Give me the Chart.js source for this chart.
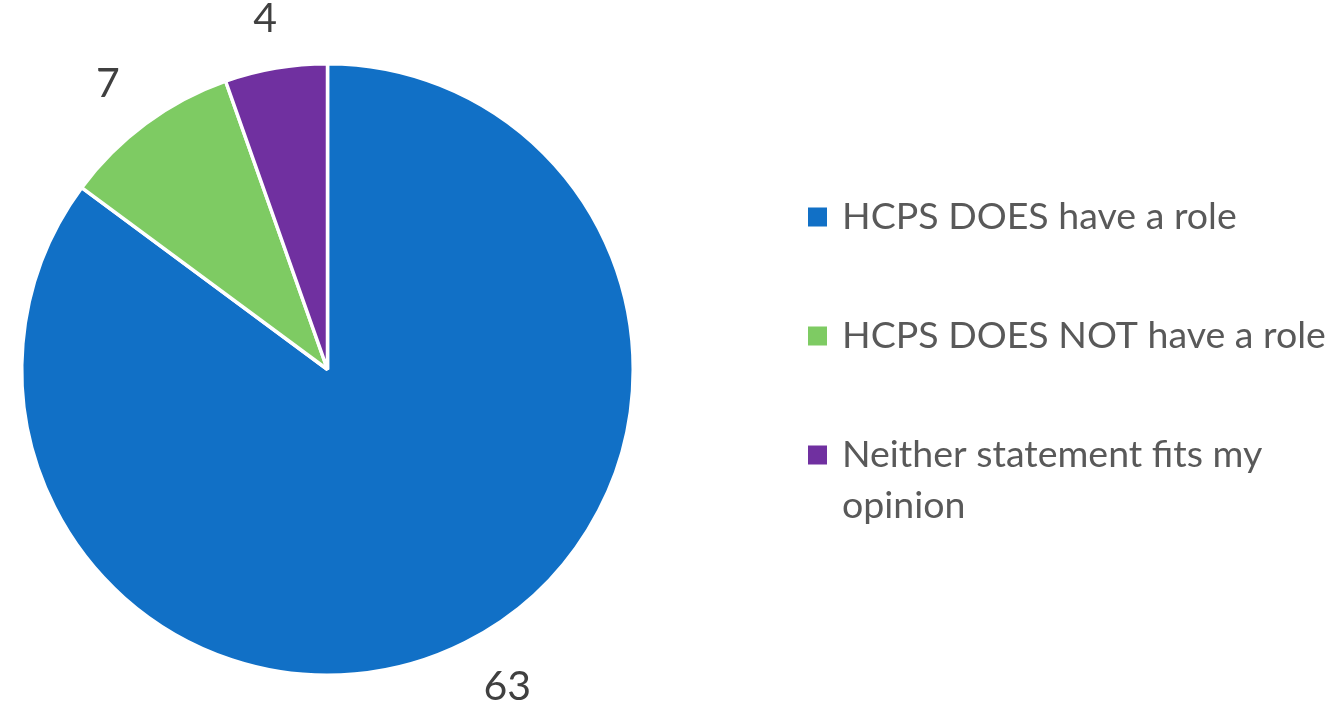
<!DOCTYPE html>
<html>
<head>
  <title>HCPS role pie</title>
  <script src="https://cdn.jsdelivr.net/npm/chart.js"></script>
  <style>
    body { margin: 0; background: #fff; }
  </style>
</head>
<body>
  <canvas id="pieChart" width="1332" height="710"></canvas>

  <script>
    // Chart data
    const categories = ['HCPS DOES have a role', 'HCPS DOES NOT have a role', 'Neither statement fits my opinion'];
    const counts = [63, 7, 4];
    const sliceColors = ['#1170C6', '#7ECB63', '#7030A0'];

    // Draws the value labels just outside each slice
    const outsideLabels = {
      id: 'outsideLabels',
      afterDatasetsDraw(chart) {
        const ctx = chart.ctx;
        const meta = chart.getDatasetMeta(0);
        ctx.save();
        ctx.font = '41px Lato';
        ctx.fillStyle = '#404040';
        ctx.textAlign = 'center';
        ctx.textBaseline = 'middle';
        meta.data.forEach((arc, i) => {
          const mid = (arc.startAngle + arc.endAngle) / 2;
          const text = String(chart.data.datasets[0].data[i]);
          const w = ctx.measureText(text).width / 2;
          const d = arc.outerRadius + 34;
          const x = arc.x + Math.cos(mid) * (d + 2.5 * w);
          const y = arc.y + Math.sin(mid) * (d + 16);
          ctx.fillText(text, x, y);
        });
        ctx.restore();
      }
    };

    // Legend on the right, with word wrapping
    const sideLegend = {
      id: 'sideLegend',
      afterDraw(chart) {
        const ctx = chart.ctx;
        const boxX = 808, textX = 842, maxWidth = 1332 - textX - 4;
        const rowY = [217, 336, 455];
        const lineGap = 51;
        ctx.save();
        ctx.font = '37.5px Lato';
        ctx.textBaseline = 'middle';
        chart.data.labels.forEach((label, i) => {
          ctx.fillStyle = sliceColors[i];
          ctx.fillRect(boxX, rowY[i] - 9.5, 19, 19);
          ctx.fillStyle = '#595959';
          const words = label.split(' ');
          let line = '';
          let y = rowY[i];
          words.forEach(word => {
            const test = line ? line + ' ' + word : word;
            if (ctx.measureText(test).width > maxWidth && line) {
              ctx.fillText(line, textX, y);
              line = word;
              y += lineGap;
            } else {
              line = test;
            }
          });
          ctx.fillText(line, textX, y);
        });
        ctx.restore();
      }
    };

    const ctx = document.getElementById('pieChart').getContext('2d');
    const pieChart = new Chart(ctx, {
      type: 'pie',
      data: {
        labels: categories,
        datasets: [{
          data: counts,
          backgroundColor: sliceColors,
          borderColor: '#ffffff',
          borderWidth: 3.5
        }]
      },
      options: {
        responsive: false,
        animation: false,
        layout: { padding: { left: 20, top: 62, right: 697, bottom: 33 } },
        plugins: {
          legend: { display: false },
          tooltip: { enabled: false }
        }
      },
      plugins: [outsideLabels, sideLegend]
    });
  </script>
</body>
</html>
